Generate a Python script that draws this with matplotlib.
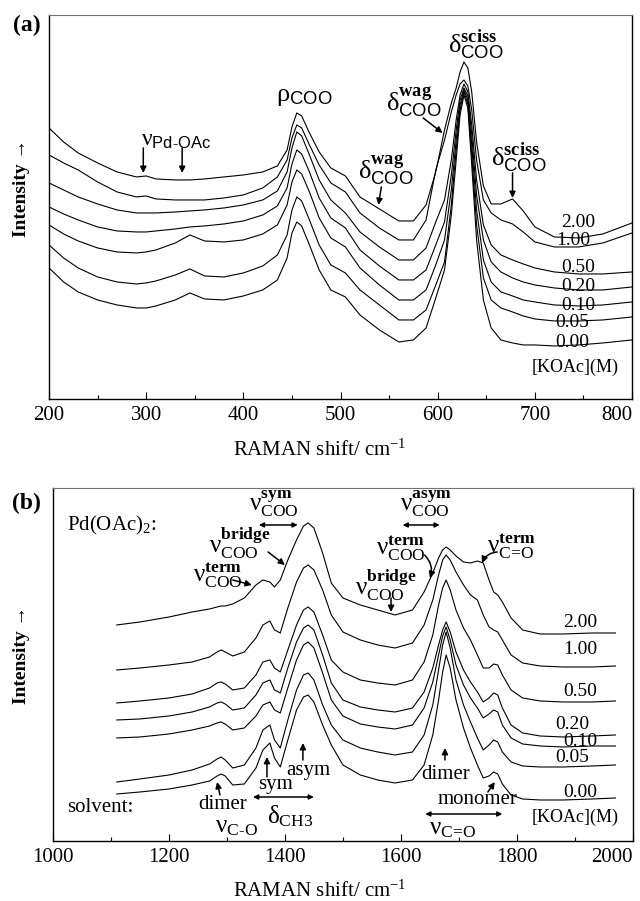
import matplotlib
matplotlib.use('Agg')
import matplotlib.pyplot as plt
from matplotlib.ticker import MultipleLocator

plt.rcParams['font.family'] = ['Liberation Serif', 'DejaVu Serif']
plt.rcParams['mathtext.fontset'] = 'custom'
plt.rcParams['mathtext.rm'] = 'Liberation Serif'
plt.rcParams['mathtext.bf'] = 'Liberation Serif:bold'
plt.rcParams['mathtext.it'] = 'Liberation Serif:italic'
plt.rcParams['mathtext.sf'] = 'Liberation Sans'

# --- Data (intensity in arbitrary units) ---
conc_labels = ['2.00', '1.00', '0.50', '0.20', '0.10', '0.05', '0.00']

# (a) low wavenumber region
shift_a = [200, 215, 230, 250, 270, 290, 300, 310, 330, 345, 360, 380, 400, 420, 435, 445,
           450, 455, 460, 468, 478, 490, 505, 520, 540, 560, 575, 588, 598, 607, 614, 619,
           623, 627, 631, 635, 640, 647, 655, 665, 677, 688, 700, 720, 745, 770, 800]
a_200 = [271, 257, 246, 236, 227, 222, 223, 220, 219, 219, 220, 222, 224, 227, 233, 249,
         272, 286, 283, 266, 247, 231, 223, 202, 190, 178, 178, 194, 227, 269, 296, 311,
         327, 337, 331, 307, 257, 213, 195, 195, 200, 188, 172, 162, 161, 165, 176]
a_100 = [244, 236, 229, 217, 207, 202, 203, 200, 199, 199, 199, 201, 204, 211, 222, 239,
         261, 274, 271, 254, 234, 216, 207, 186, 171, 159, 159, 179, 229, 259, 287, 304,
         315, 319, 313, 289, 239, 199, 186, 179, 175, 167, 157, 152, 152, 156, 166]
a_050 = [216, 209, 202, 195, 189, 186, 186, 186, 187, 188, 189, 191, 194, 199, 208, 227,
         251, 267, 263, 244, 219, 199, 186, 167, 152, 139, 139, 151, 177, 199, 239, 279,
         304, 315, 307, 274, 219, 174, 154, 144, 139, 135, 131, 127, 125, 125, 127]
a_020 = [192, 185, 179, 172, 168, 167, 167, 168, 170, 172, 173, 175, 178, 184, 193, 211,
         235, 249, 245, 227, 201, 181, 171, 149, 133, 119, 119, 129, 154, 177, 224, 269,
         299, 311, 303, 264, 204, 159, 137, 127, 121, 117, 114, 111, 109, 109, 112]
a_010 = [174, 165, 158, 151, 147, 146, 147, 149, 156, 164, 158, 157, 159, 165, 174, 194,
         217, 229, 225, 207, 181, 161, 152, 131, 114, 99, 99, 109, 134, 159, 209, 259,
         294, 309, 299, 254, 189, 139, 117, 107, 103, 99, 97, 94, 93, 94, 97]
a_005 = [154, 141, 131, 122, 117, 115, 116, 118, 124, 130, 123, 122, 126, 133, 144, 164,
         189, 202, 198, 179, 154, 134, 126, 109, 94, 79, 79, 89, 114, 137, 194, 249,
         289, 307, 295, 244, 174, 121, 99, 91, 87, 83, 80, 78, 78, 79, 82]
a_000 = [131, 117, 107, 99, 94, 91, 91, 93, 99, 106, 100, 99, 103, 109, 119, 141,
         166, 177, 173, 154, 129, 109, 102, 84, 69, 57, 59, 71, 101, 129, 184, 239,
         284, 304, 291, 234, 159, 99, 71, 59, 56, 54, 54, 53, 54, 56, 59]

# (b) high wavenumber region
shift_b = [1110, 1150, 1200, 1240, 1270, 1283, 1290, 1297, 1310, 1330, 1350, 1362, 1374, 1382,
           1392, 1405, 1420, 1432, 1440, 1450, 1465, 1480, 1500, 1530, 1560, 1590, 1620, 1640,
           1655, 1665, 1672, 1678, 1685, 1695, 1708, 1720, 1732, 1742, 1752, 1760, 1767, 1775,
           1790, 1810, 1840, 1880, 1930, 1970]
b_200 = [216, 219, 224, 229, 232, 234, 235, 235, 237, 243, 256, 261, 259, 254, 261, 281,
         301, 315, 318, 313, 288, 258, 243, 236, 231, 226, 231, 249, 268, 283, 291, 294,
         291, 285, 279, 278, 280, 278, 261, 249, 246, 239, 223, 211, 207, 207, 208, 208]
b_100 = [171, 173, 176, 179, 184, 189, 191, 189, 185, 189, 203, 216, 220, 211, 208, 233,
         259, 273, 276, 271, 251, 226, 209, 201, 196, 193, 198, 216, 241, 266, 281, 286,
         281, 269, 256, 246, 241, 226, 214, 211, 209, 201, 186, 178, 175, 174, 174, 175]
b_050 = [138, 140, 143, 147, 153, 158, 159, 157, 151, 153, 166, 179, 181, 173, 169, 191,
         216, 231, 234, 229, 206, 181, 169, 161, 158, 156, 161, 179, 206, 236, 253, 261,
         251, 231, 213, 201, 186, 173, 173, 177, 176, 166, 151, 143, 140, 139, 139, 140]
b_020 = [121, 122, 125, 129, 134, 138, 139, 137, 131, 133, 146, 158, 161, 151, 148, 173,
         199, 213, 216, 211, 186, 158, 141, 134, 131, 129, 133, 149, 173, 196, 211, 219,
         209, 189, 171, 159, 149, 139, 143, 148, 146, 133, 116, 108, 105, 104, 105, 106]
b_010 = [103, 104, 107, 111, 115, 118, 119, 117, 111, 113, 125, 136, 139, 131, 128, 153,
         181, 196, 199, 193, 168, 141, 125, 117, 114, 112, 116, 133, 159, 186, 205, 214,
         201, 176, 156, 143, 133, 123, 127, 131, 129, 116, 103, 97, 95, 94, 95, 95]
b_005 = [59, 62, 66, 71, 77, 82, 84, 81, 73, 76, 93, 111, 116, 101, 93, 121,
         151, 166, 168, 161, 136, 116, 101, 93, 89, 86, 89, 106, 136, 171, 196, 209,
         193, 161, 136, 119, 103, 91, 96, 101, 99, 89, 79, 75, 74, 74, 75, 76]
b_000 = [47, 49, 52, 56, 60, 65, 67, 65, 56, 57, 73, 91, 98, 83, 74, 101,
         131, 144, 146, 139, 116, 96, 76, 66, 61, 58, 61, 76, 106, 141, 169, 186,
         173, 141, 113, 93, 76, 63, 65, 69, 67, 57, 46, 42, 41, 41, 42, 43]

spectra_a = [a_200, a_100, a_050, a_020, a_010, a_005, a_000]
spectra_b = [b_200, b_100, b_050, b_020, b_010, b_005, b_000]

# --- Helpers ---
ARROW = dict(arrowstyle='-|>', color='black', lw=1.1, mutation_scale=9,
             shrinkA=0, shrinkB=0)
DARROW = dict(arrowstyle='<|-|>', color='black', lw=1.1, mutation_scale=7,
              shrinkA=0, shrinkB=0)


def arrow(ax, start, end, rad=0.0):
    props = dict(ARROW, connectionstyle=f'arc3,rad={rad}')
    ax.annotate('', xy=end, xytext=start, arrowprops=props)


def darrow(ax, x0, x1, y):
    ax.annotate('', xy=(x1, y), xytext=(x0, y), arrowprops=DARROW)


def style_axes(ax, xmin, xmax, major, minor, ymax):
    ax.set_xlim(xmin, xmax)
    ax.set_ylim(0, ymax)
    ax.set_xticks(range(xmin, xmax + 1, major))
    ax.xaxis.set_minor_locator(MultipleLocator(minor))
    ax.tick_params(axis='x', which='major', direction='in', length=5, width=0.8,
                   labelsize=15, pad=5)
    ax.tick_params(axis='x', which='minor', direction='in', length=3, width=0.8)
    ax.set_yticks([])
    # last label sits flush with the right frame, as in the print
    ax.get_xticklabels()[-1].set_horizontalalignment('right')
    for side in ['left', 'bottom', 'right']:
        ax.spines[side].set_linewidth(1.0)
    ax.spines['top'].set_linewidth(0.8)
    ax.spines['top'].set_color('0.45')


fig = plt.figure(figsize=(6.4, 9.01), dpi=100)

# --- Panel (a) ---
ax_a = fig.add_axes([0.0766, 0.5572, 0.911, 0.4262])
for y in spectra_a:
    ax_a.plot(shift_a, y, color='black', linewidth=0.8)
style_axes(ax_a, 200, 800, 100, 50, 384)

lab_x_a = [745, 739, 745, 745, 745, 738, 738]
lab_y_a = [176, 158, 131, 112, 93, 76, 56]
for lab, lx, ly in zip(conc_labels, lab_x_a, lab_y_a):
    ax_a.text(lx, ly, lab, fontsize=14, ha='center', va='center')
ax_a.text(741, 32, '[KOAc](M)', fontsize=13, ha='center', va='center')

ax_a.text(331, 258, r'$\mathrm{\nu}_{\mathsf{Pd\text{-}OAc}}$', fontsize=17,
          ha='center', va='center')
arrow(ax_a, (297, 251), (297, 226))
arrow(ax_a, (337, 251), (337, 226))
ax_a.text(463, 302, r'$\mathrm{\rho}_{\mathsf{COO}}$', fontsize=19, ha='center', va='center')
ax_a.text(639, 354, r'$\mathrm{\delta}^{\mathbf{sciss}}_{\mathsf{COO}}$', fontsize=19,
          ha='center', va='center')
ax_a.text(575, 297, r'$\mathrm{\delta}^{\mathbf{wag}}_{\mathsf{COO}}$', fontsize=19,
          ha='center', va='center')
arrow(ax_a, (585, 281), (605, 266))
ax_a.text(547, 229, r'$\mathrm{\delta}^{\mathbf{wag}}_{\mathsf{COO}}$', fontsize=19,
          ha='center', va='center')
arrow(ax_a, (542, 212), (539, 194))
ax_a.text(684, 241, r'$\mathrm{\delta}^{\mathbf{sciss}}_{\mathsf{COO}}$', fontsize=19,
          ha='center', va='center')
arrow(ax_a, (677, 226), (677, 201))

# --- Panel (b) ---
ax_b = fig.add_axes([0.0828, 0.0666, 0.906, 0.3918])
for y in spectra_b:
    ax_b.plot(shift_b, y, color='black', linewidth=0.8)
style_axes(ax_b, 1000, 2000, 200, 100, 353)

lab_x_b = [1909, 1909, 1909, 1895, 1909, 1895, 1909]
lab_y_b = [218, 191, 149, 116, 99, 83, 48]
for lab, lx, ly in zip(conc_labels, lab_x_b, lab_y_b):
    ax_b.text(lx, ly, lab, fontsize=14, ha='center', va='center')
ax_b.text(1900, 24, '[KOAc](M)', fontsize=13, ha='center', va='center')

ax_b.text(1024, 315, r'Pd(OAc)$_2$:', fontsize=15, ha='left', va='center')
ax_b.text(1024, 33, 'solvent:', fontsize=15, ha='left', va='center')

ax_b.text(1381, 337, r'$\mathrm{\nu}^{\mathbf{sym}}_{\mathrm{COO}}$', fontsize=18,
          ha='center', va='center')
darrow(ax_b, 1355, 1422, 316)
ax_b.text(1322, 298, r'$\mathrm{\nu}^{\mathbf{bridge}}_{\mathrm{COO}}$', fontsize=18,
          ha='center', va='center')
arrow(ax_b, (1371, 289), (1400, 276))
ax_b.text(1284, 266, r'$\mathrm{\nu}^{\mathbf{term}}_{\mathrm{COO}}$', fontsize=18,
          ha='center', va='center')
arrow(ax_b, (1310, 261), (1343, 256))

ax_b.text(1643, 337, r'$\mathrm{\nu}^{\mathbf{asym}}_{\mathrm{COO}}$', fontsize=18,
          ha='center', va='center')
darrow(ax_b, 1603, 1667, 316)
ax_b.text(1600, 293, r'$\mathrm{\nu}^{\mathbf{term}}_{\mathrm{COO}}$', fontsize=18,
          ha='center', va='center')
arrow(ax_b, (1641, 286), (1650, 263), rad=-0.3)
ax_b.text(1574, 256, r'$\mathrm{\nu}^{\mathbf{bridge}}_{\mathrm{COO}}$', fontsize=18,
          ha='center', va='center')
arrow(ax_b, (1583, 243), (1583, 229))
ax_b.text(1791, 295, r'$\mathrm{\nu}^{\mathbf{term}}_{\mathrm{C\!=\!O}}$', fontsize=18,
          ha='center', va='center')
arrow(ax_b, (1766, 289), (1740, 278), rad=0.3)

ax_b.text(1293, 36, 'dimer', fontsize=15, ha='center', va='center')
ax_b.text(1317, 14, r'$\mathrm{\nu}_{\mathrm{C\text{-}O}}$', fontsize=18,
          ha='center', va='center')
arrow(ax_b, (1288, 46), (1283, 59))
ax_b.text(1383, 56, 'sym', fontsize=15, ha='center', va='center')
arrow(ax_b, (1369, 64), (1369, 84))
darrow(ax_b, 1345, 1450, 44)
ax_b.text(1409, 25, r'$\mathrm{\delta}_{\mathrm{CH3}}$', fontsize=18,
          ha='center', va='center')
ax_b.text(1440, 70, 'asym', fontsize=15, ha='center', va='center')
arrow(ax_b, (1431, 81), (1431, 98))
ax_b.text(1678, 66, 'dimer', fontsize=15, ha='center', va='center')
arrow(ax_b, (1676, 81), (1676, 93))
ax_b.text(1733, 41, 'monomer', fontsize=15, ha='center', va='center')
arrow(ax_b, (1750, 49), (1762, 59))
darrow(ax_b, 1642, 1775, 27)
ax_b.text(1690, 12, r'$\mathrm{\nu}_{\mathrm{C\!=\!O}}$', fontsize=18,
          ha='center', va='center')

# --- Figure labels ---
fig.text(0.042, 0.972, '(a)', fontsize=17, fontweight='bold', ha='center', va='center')
fig.text(0.042, 0.4417, '(b)', fontsize=17, fontweight='bold', ha='center', va='center')
fig.text(0.034, 0.7913, 'Intensity \u2192', fontsize=14, fontweight='bold',
         rotation=90, ha='center', va='center')
fig.text(0.034, 0.273, 'Intensity \u2192', fontsize=14, fontweight='bold',
         rotation=90, ha='center', va='center')
fig.text(0.5, 0.5006, r'RAMAN shift/ cm$^{\mathrm{-1}}$', fontsize=15,
         ha='center', va='center')
fig.text(0.5, 0.011, r'RAMAN shift/ cm$^{\mathrm{-1}}$', fontsize=15,
         ha='center', va='center')

fig.savefig('out.png', dpi=100)
plt.close(fig)
